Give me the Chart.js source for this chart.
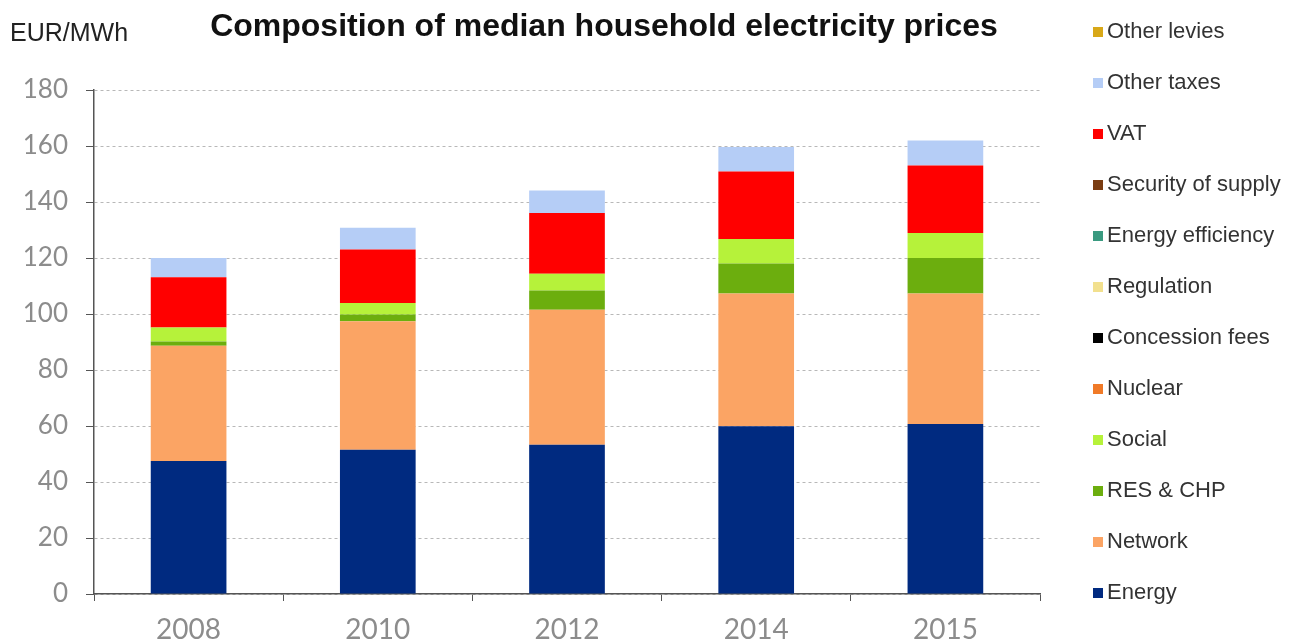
<!DOCTYPE html>
<html>
<head>
<meta charset="utf-8">
<script src="https://cdn.jsdelivr.net/npm/chart.js@4/dist/chart.umd.min.js"></script>
<style>
  html, body { margin: 0; padding: 0; background: #fff; }
  #wrap { width: 1307px; height: 644px; position: relative; }
</style>
</head>
<body>
<div id="wrap"><canvas id="bar-chart" width="1307" height="644"></canvas></div>
<script>
const years = ['2008', '2010', '2012', '2014', '2015'];

// components, bottom of the stack first
const energy = [47.5, 51.5, 53.3, 59.9, 60.7];
const network = [41.2, 45.9, 48.2, 47.4, 46.6];
const resChp = [1.5, 2.4, 6.9, 10.7, 12.7];
const social = [5.0, 4.1, 6.0, 8.8, 8.9];
const nuclear = [0, 0, 0, 0, 0];
const concessionFees = [0, 0, 0, 0, 0];
const regulation = [0, 0, 0, 0, 0];
const energyEfficiency = [0, 0, 0, 0, 0];
const securityOfSupply = [0, 0, 0, 0, 0];
const vat = [17.9, 19.1, 21.7, 24.1, 24.1];
const otherTaxes = [6.9, 7.8, 8.0, 8.7, 9.0];
const otherLevies = [0, 0, 0, 0, 0];

const yTicks = [0, 20, 40, 60, 80, 100, 120, 140, 160, 180];

function ds(label, data, color) {
  return { label: label, data: data, backgroundColor: color, borderWidth: 0 };
}

// title, unit label and legend drawn by hand to match the layout
const extras = {
  id: 'extras',
  afterDraw(chart) {
    const ctx = chart.ctx;
    ctx.save();
    ctx.textBaseline = 'middle';
    ctx.fillStyle = '#111';
    ctx.font = 'bold 32px "Liberation Sans", Arial, sans-serif';
    ctx.textAlign = 'center';
    ctx.fillText('Composition of median household electricity prices', 604, 27);
    ctx.font = '25px "Liberation Sans", Arial, sans-serif';
    ctx.textAlign = 'left';
    ctx.fillStyle = '#222';
    ctx.fillText('EUR/MWh', 10, 34);

    const sets = chart.data.datasets.slice().reverse();
    ctx.font = '22px "Liberation Sans", Arial, sans-serif';
    for (let i = 0; i < sets.length; i += 1) {
      const y = 32 + i * 51;
      ctx.fillStyle = sets[i].backgroundColor;
      ctx.fillRect(1093, y - 5, 10, 10);
      ctx.fillStyle = '#333';
      ctx.fillText(sets[i].label, 1107, y);
    }
    ctx.restore();
  }
};

new Chart(document.getElementById('bar-chart'), {
  type: 'bar',
  data: {
    labels: years,
    datasets: [
      ds('Energy', energy, '#002a80'),
      ds('Network', network, '#fba464'),
      ds('RES & CHP', resChp, '#6cae0e'),
      ds('Social', social, '#b6f23a'),
      ds('Nuclear', nuclear, '#f07a28'),
      ds('Concession fees', concessionFees, '#000000'),
      ds('Regulation', regulation, '#f2e08e'),
      ds('Energy efficiency', energyEfficiency, '#3a9a80'),
      ds('Security of supply', securityOfSupply, '#7a3c12'),
      ds('VAT', vat, '#ff0000'),
      ds('Other taxes', otherTaxes, '#b5cdf6'),
      ds('Other levies', otherLevies, '#d8a818')
    ]
  },
  options: {
    responsive: false,
    devicePixelRatio: 1,
    animation: false,
    layout: { padding: { left: 0, right: 267, top: 90, bottom: 0 } },
    plugins: {
      legend: { display: false },
      title: { display: false },
      tooltip: { enabled: false }
    },
    datasets: {
      bar: { categoryPercentage: 1.0, barPercentage: 0.4 }
    },
    scales: {
      x: {
        stacked: true,
        afterFit: s => { s.height = 50; },
        grid: { drawOnChartArea: false, drawTicks: true, tickLength: 7, tickColor: '#555', offset: true },
        border: { color: '#555', width: 1.5 },
        ticks: { color: '#8c8c8c', padding: 12, font: { family: 'Lato, "Liberation Sans", sans-serif', size: 28 } }
      },
      y: {
        stacked: true,
        min: 0,
        max: 180,
        afterFit: s => { s.width = 94; },
        afterBuildTicks: s => { s.ticks = yTicks.map(v => ({ value: v })); },
        grid: { color: '#b8b8b8', lineWidth: 1, drawTicks: true, tickLength: 8, tickColor: '#555' },
        border: { color: '#555', width: 1.5, dash: [3, 3] },
        ticks: { color: '#8c8c8c', padding: 18, font: { family: 'Lato, "Liberation Sans", sans-serif', size: 26 } }
      }
    }
  },
  plugins: [extras]
});
</script>
</body>
</html>
